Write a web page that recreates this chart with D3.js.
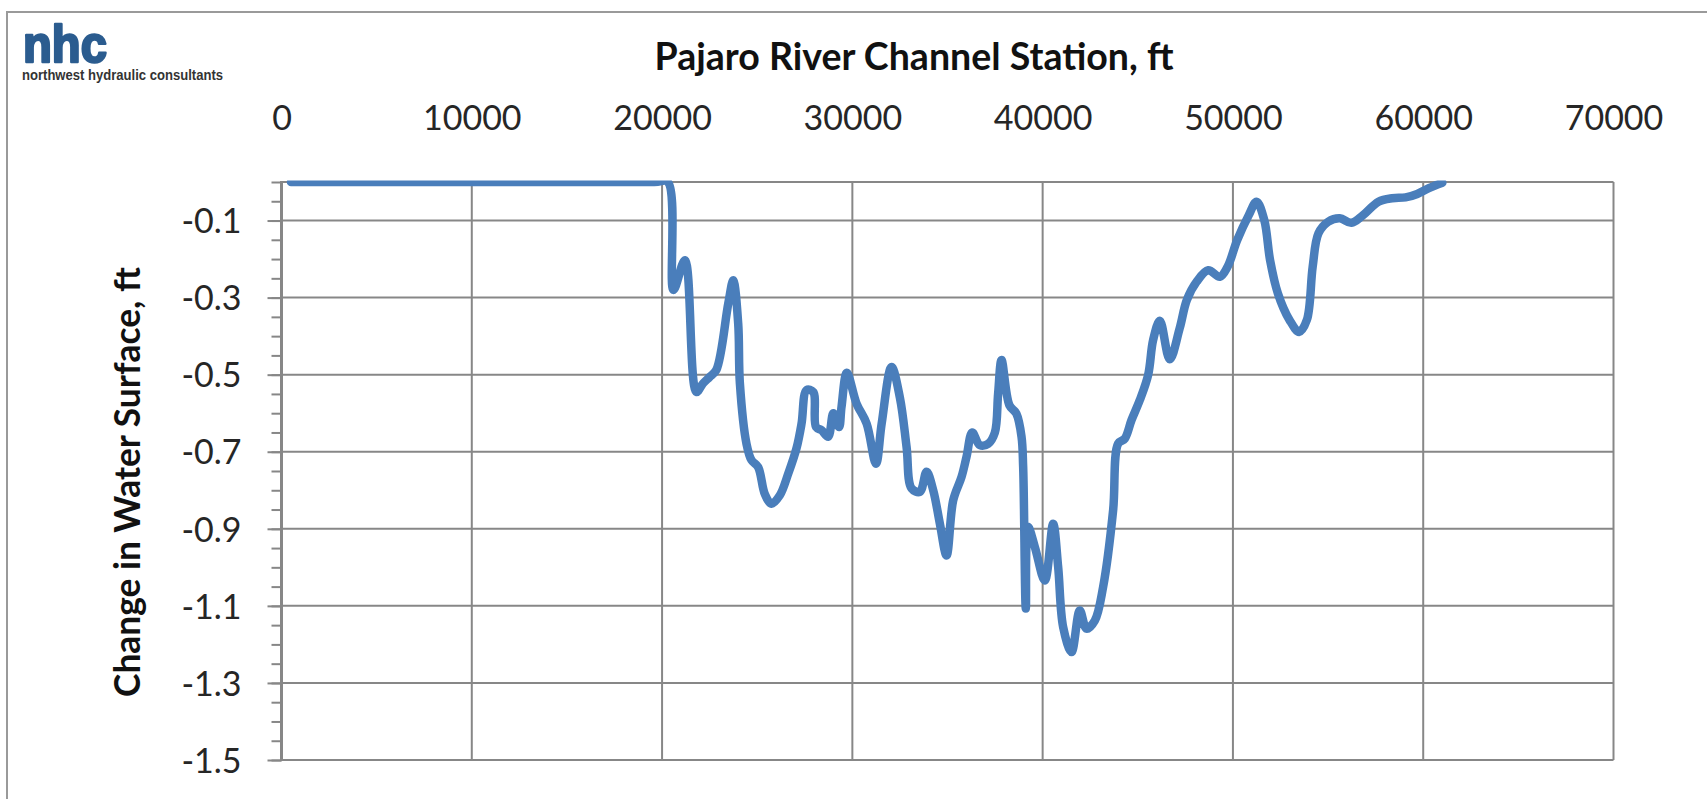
<!DOCTYPE html>
<html>
<head>
<meta charset="utf-8">
<script src="https://cdn.jsdelivr.net/npm/d3@7"></script>
<style>
  html, body { margin: 0; padding: 0; background: #fff; }
  svg { display: block; }
</style>
</head>
<body>
<div id="chart"></div>
<script>
// station (ft) and change in water surface (ft)
const station = [
  500, 19600, 20300, 20600, 21200, 21800, 22150, 22500, 22850, 23480,
  23740, 24000, 24090, 24440, 24700, 25050, 25400, 25750, 26190, 26630,
  27070, 27330, 27594, 27944, 28090, 28380, 28730, 29000, 29300, 29430,
  29710, 30220, 30750, 31240, 31540, 32060, 32500, 32850, 33110, 33550,
  33900, 34250, 34600, 34950, 35300, 35740, 36000, 36300, 36700, 37140,
  37490, 37660, 37840, 38250, 38620, 38890, 38976, 39115, 39237, 39590,
  40114, 40552, 40815, 41078, 41516, 41953, 42304, 42742, 43178, 43704,
  43967, 44318, 44669, 45106, 45547, 45806, 46157, 46680, 47200, 47580,
  48090, 48700, 49310, 49718, 50224, 50833, 51243, 51648, 51953, 52362,
  52972, 53481, 53886, 54191, 54496, 55006, 55615, 56225, 56839, 57648,
  58362, 59073, 59687, 60297, 61005
];
const change = [
  0, 0, 0, -0.28, -0.203, -0.545, -0.523, -0.506, -0.488, -0.315,
  -0.255, -0.367, -0.523, -0.68, -0.722, -0.74, -0.81, -0.835, -0.813, -0.757,
  -0.69, -0.627, -0.54, -0.545, -0.636, -0.644, -0.661, -0.6, -0.636, -0.584,
  -0.495, -0.575, -0.627, -0.731, -0.627, -0.48, -0.56, -0.688, -0.795, -0.804,
  -0.752, -0.8, -0.887, -0.969, -0.826, -0.765, -0.713, -0.65, -0.683, -0.679,
  -0.65, -0.549, -0.462, -0.579, -0.601, -0.661, -0.739, -1.107, -0.895, -0.947,
  -1.034, -0.887, -0.999, -1.155, -1.22, -1.112, -1.159, -1.138, -1.051, -0.852,
  -0.679, -0.666, -0.618, -0.566, -0.5, -0.41, -0.36, -0.46, -0.38, -0.306,
  -0.259, -0.229, -0.246, -0.22, -0.151, -0.086, -0.051, -0.099, -0.203, -0.289,
  -0.358, -0.389, -0.358, -0.22, -0.133, -0.103, -0.094, -0.106, -0.086, -0.051,
  -0.042, -0.04, -0.031, -0.016, -0.002
];
const xTicks = [0, 10000, 20000, 30000, 40000, 50000, 60000, 70000];
const yTicks = [-0.1, -0.3, -0.5, -0.7, -0.9, -1.1, -1.3, -1.5];
const yMinorTicks = d3.range(0, 31).map(i => -1.5 + i * 0.05);

const title = "Pajaro River Channel Station, ft";
const yTitle = "Change in Water Surface, ft";

const data = station.map((s, i) => ({station: s, value: change[i]}));

const width = 1707;
const height = 799;
const margin = ({top: 182, right: 93.5, bottom: 39, left: 281.5});
const gridColor = "#878787";
const font = "Lato, 'Open Sans', sans-serif";

const svg = d3.select("#chart").append("svg")
  .attr("width", width)
  .attr("height", height)
  .attr("viewBox", [0, 0, width, height]);

// outer frame (runs off the right and bottom edges)
svg.append("rect")
  .attr("x", 7)
  .attr("y", 12)
  .attr("width", width)
  .attr("height", height)
  .attr("fill", "none")
  .attr("stroke", "#9a9a9a")
  .attr("stroke-width", 2);

const x = d3.scaleLinear()
  .domain([0, 70000])
  .range([margin.left, width - margin.right]);

const y = d3.scaleLinear()
  .domain([-1.5, 0])
  .range([height - margin.bottom, margin.top]);

// grid
const grid = g => g
  .attr("stroke", gridColor)
  .attr("stroke-width", 2)
  .call(g => g.append("g")
    .selectAll("line")
    .data(xTicks)
    .join("line")
      .attr("x1", d => x(d))
      .attr("x2", d => x(d))
      .attr("y1", y(0))
      .attr("y2", y(-1.5)))
  .call(g => g.append("g")
    .selectAll("line")
    .data(yTicks.concat([0]))
    .join("line")
      .attr("y1", d => y(d))
      .attr("y2", d => y(d))
      .attr("x1", x(0))
      .attr("x2", x(70000)));

svg.append("g").call(grid);

// x axis on top
const xAxis = g => g
  .attr("transform", `translate(0,${margin.top})`)
  .call(d3.axisTop(x).tickValues(xTicks).tickFormat(d => String(d)).tickSize(0).tickPadding(52))
  .call(g => g.select(".domain").remove())
  .call(g => g.selectAll("text")
    .attr("font-family", font)
    .attr("font-size", 34)
    .attr("fill", "#262626"));

svg.append("g").call(xAxis);

// y axis: minor ticks, then major ticks with labels
svg.append("g")
  .attr("transform", `translate(${margin.left},0)`)
  .call(d3.axisLeft(y).tickValues(yMinorTicks).tickFormat("").tickSize(10))
  .call(g => g.select(".domain").remove())
  .call(g => g.selectAll("line").attr("stroke", gridColor).attr("stroke-width", 2));

const yAxis = g => g
  .attr("transform", `translate(${margin.left},0)`)
  .call(d3.axisLeft(y).tickValues(yTicks).tickFormat(d => d.toFixed(1)).tickSize(14).tickPadding(26))
  .call(g => g.select(".domain").remove())
  .call(g => g.selectAll("line").attr("stroke", gridColor).attr("stroke-width", 2))
  .call(g => g.selectAll("text")
    .attr("font-family", font)
    .attr("font-size", 34)
    .attr("fill", "#262626")
    .attr("dy", "0.36em"));

svg.append("g").call(yAxis);

svg.append("line")
  .attr("x1", x(0))
  .attr("x2", x(0))
  .attr("y1", y(0) - 1)
  .attr("y2", y(-1.5) + 1)
  .attr("stroke", gridColor)
  .attr("stroke-width", 3);

// line
svg.append("clipPath")
  .attr("id", "plot-clip")
  .append("rect")
  .attr("x", x(0))
  .attr("y", y(0) - 1.5)
  .attr("width", x(70000) - x(0))
  .attr("height", y(-1.5) - y(0) + 1.5);

const line = d3.line()
  .curve(d3.curveCatmullRom.alpha(0.5))
  .x(d => x(d.station))
  .y(d => y(d.value));

svg.append("path")
  .datum(data)
  .attr("clip-path", "url(#plot-clip)")
  .attr("fill", "none")
  .attr("stroke", "#4a7ebb")
  .attr("stroke-width", 8.5)
  .attr("stroke-linejoin", "round")
  .attr("stroke-linecap", "round")
  .attr("d", line);

// titles
const fit = (sel, target) => {
  const w = sel.node().getComputedTextLength();
  sel.attr("font-size", parseFloat(sel.attr("font-size")) * target / w);
};

svg.append("text")
  .attr("x", 914)
  .attr("y", 70)
  .attr("text-anchor", "middle")
  .attr("font-family", font)
  .attr("font-weight", "bold")
  .attr("font-size", 32)
  .attr("fill", "#111")
  .text(title)
  .call(fit, 519);

svg.append("text")
  .attr("transform", "translate(140,482) rotate(-90)")
  .attr("text-anchor", "middle")
  .attr("font-family", font)
  .attr("font-weight", "bold")
  .attr("font-size", 32)
  .attr("fill", "#111")
  .text(yTitle)
  .call(fit, 430);

// logo
svg.append("text")
  .attr("x", 23)
  .attr("y", 62)
  .attr("font-family", "'Liberation Sans', Arial, sans-serif")
  .attr("font-weight", "bold")
  .attr("font-size", 52)
  .attr("textLength", 84)
  .attr("lengthAdjust", "spacingAndGlyphs")
  .attr("fill", "#2b5c8f")
  .attr("stroke", "#2b5c8f")
  .attr("stroke-width", 2.5)
  .attr("stroke-linejoin", "round")
  .text("nhc");

svg.append("text")
  .attr("x", 22)
  .attr("y", 79.5)
  .attr("font-family", "'Liberation Sans Narrow', 'Liberation Sans', Arial, sans-serif")
  .attr("font-weight", "bold")
  .attr("font-size", 15)
  .attr("textLength", 201)
  .attr("lengthAdjust", "spacingAndGlyphs")
  .attr("fill", "#333")
  .text("northwest hydraulic consultants");
</script>
</body>
</html>
